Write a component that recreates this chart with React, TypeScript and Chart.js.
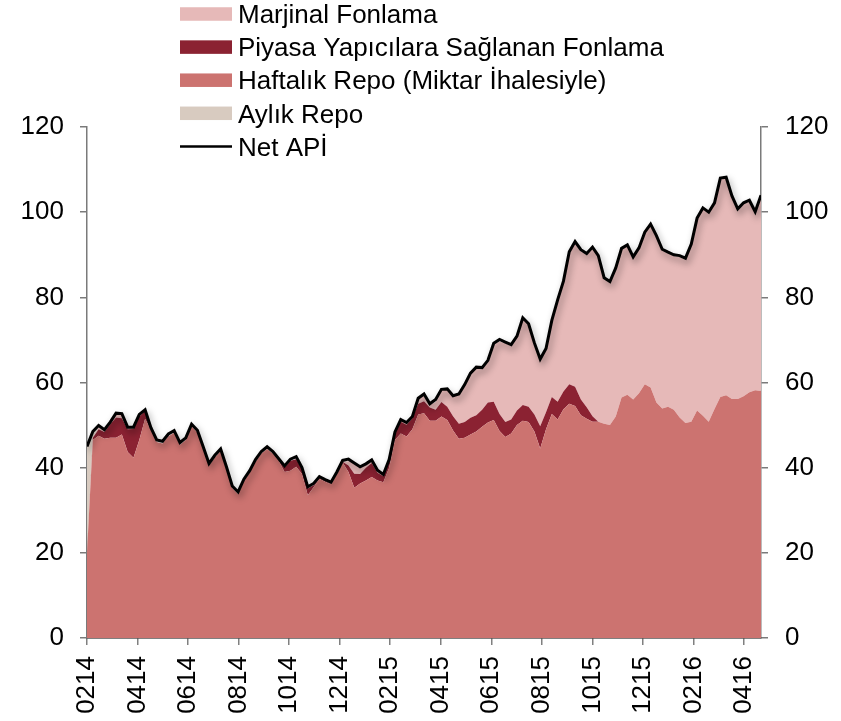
import { useEffect, useRef } from "react";
import { Chart, registerables } from "chart.js";

Chart.register(...registerables);

// x-axis tick labels (MMYY), one every two months starting Feb 2014
const tickLabels = ["0214", "0414", "0614", "0814", "1014", "1214", "0215", "0415", "0615", "0815", "1015", "1215", "0216", "0416"];

// weekly observations, first week of Feb 2014 onward (billion TL)
const netApi = [
  45, 48.5, 49.9, 48.9, 50.7, 52.8, 52.7, 49.5, 49.5, 52.5,
  53.6, 49.4, 46.5, 46.2, 47.9, 48.7, 45.9, 47, 50.2, 48.8,
  44.9, 41, 42.9, 44.4, 40.2, 35.7, 34.3, 37.3, 39.3, 41.9,
  43.8, 44.9, 43.8, 42.1, 40.4, 42, 42.6, 40, 35.5, 36.3,
  37.9, 37.2, 36.6, 39, 41.7, 42, 41.1, 40.2, 40.9, 41.8,
  39.4, 38.4, 41.9, 48.4, 51.3, 50.6, 52, 56.3, 57.3, 55,
  56, 58.4, 58.5, 56.9, 57.3, 59.5, 62.2, 63.6, 63.5, 65.2,
  69.2, 70.1, 69.5, 68.9, 70.9, 75.2, 73.8, 69.3, 65.5, 68,
  74.6, 79.4, 83.8, 90.7, 93.1, 91.2, 90.3, 91.8, 89.8, 84.6,
  83.7, 86.9, 91.5, 92.3, 89.5, 91.6, 95.3, 97.2, 94.5, 91.3,
  90.6, 90, 89.8, 89.2, 92.5, 98.6, 101, 100, 102.2, 108,
  108.2, 103.8, 100.8, 102.2, 102.8, 100.1, 104,
];

const haftalikRepo = [
  20, 46.5, 47.5, 46.8, 47, 47, 47.8, 43.7, 42.3, 46.5,
  51.5, 48.8, 46, 45.7, 47.4, 48.2, 45.4, 46.5, 49.7, 48.3,
  44.4, 40.5, 42.4, 43.9, 39.7, 35.2, 33.8, 36.8, 38.8, 41.4,
  43.3, 44.4, 43.3, 41.6, 39, 39.3, 40.2, 38.5, 33.5, 35.4,
  37.4, 36.7, 36.1, 38.5, 41.2, 39, 35.3, 36.3, 37, 37.8,
  37, 36.6, 40, 46.5, 48, 47.3, 49, 52.5, 52.8, 51,
  51, 52, 51.2, 48.7, 46.8, 47, 47.8, 48.5, 49.6, 50.6,
  51.2, 48.6, 47.2, 48, 50, 51, 50.7, 48.5, 44.5, 49,
  52.6, 51.3, 53.7, 55, 54.5, 52.3, 51.5, 50.8, 50.8, 50.3,
  50, 52, 56.5, 57.1, 56, 57.5, 59.6, 58.8, 55.3, 53.9,
  54.3, 53.6, 51.8, 50.5, 50.8, 53.4, 52.2, 50.8, 53.8, 56.6,
  57, 56.1, 56.1, 56.8, 57.7, 58.2, 58,
];

const piyasaYapici = [
  0, 0.5, 1.5, 1.6, 3.2, 4.8, 3.8, 5.3, 6.8, 5.5,
  1.8, 0.3, 0, 0, 0, 0, 0, 0, 0, 0,
  0, 0, 0, 0, 0, 0, 0, 0, 0, 0,
  0, 0, 0, 0.3, 1, 2.3, 1.8, 1.2, 1.6, 0.5,
  0.2, 0.2, 0.2, 0.2, 0.2, 1.5, 3.3, 2.2, 3, 3.3,
  1.8, 1.4, 1.5, 1.5, 2.8, 2.8, 2.6, 2.5, 2.8, 3.1,
  2.6, 3.4, 3.1, 3.4, 3.5, 3.7, 3.9, 3.8, 4, 4.7,
  4.3, 4, 3.5, 3.3, 3.4, 3.7, 3.6, 4, 5.2, 4,
  4, 4.2, 4.2, 4.6, 4.5, 3.7, 2.7, 1.3, 0, 0,
  0, 0, 0, 0, 0, 0, 0, 0, 0, 0,
  0, 0, 0, 0, 0, 0, 0, 0, 0, 0,
  0, 0, 0, 0, 0, 0, 0,
];

const marjinalFonlama = [
  0, 0, 0.5, 0.3, 0.3, 0.8, 0.8, 0.3, 0.3, 0.3,
  0.2, 0.2, 0, 0, 0, 0, 0, 0, 0, 0,
  0, 0, 0, 0, 0, 0, 0, 0, 0, 0,
  0, 0, 0, 0, 0, 0, 0, 0, 0, 0,
  0, 0, 0, 0, 0, 1, 2.5, 1.5, 0.8, 0.5,
  0.3, 0.2, 0.2, 0.2, 0.3, 0.3, 0.3, 1, 1.5, 0.6,
  1.8, 2.8, 4, 4.6, 6.8, 8.5, 10, 11, 9.5, 9.6,
  13.4, 17, 18.5, 17.3, 17.2, 20.2, 19.2, 16.5, 15.5, 14.7,
  17.7, 23.5, 25.6, 30.8, 33.8, 34.8, 35.8, 39.3, 38.6, 34,
  33.4, 34.5, 34.7, 34.9, 33.2, 33.8, 35.4, 38.1, 38.9, 37.1,
  36, 36.1, 37.7, 38.4, 41.4, 44.9, 48.5, 48.9, 48.1, 51.1,
  50.9, 47.4, 44.4, 45.1, 44.8, 41.6, 45.5,
];

const aylikRepo = [
  25, 1.5, 0, 0, 0, 0, 0, 0, 0, 0,
  0, 0, 0, 0, 0, 0, 0, 0, 0, 0,
  0, 0, 0, 0, 0, 0, 0, 0, 0, 0,
  0, 0, 0, 0, 0, 0, 0, 0, 0, 0,
  0, 0, 0, 0, 0, 0, 0, 0, 0, 0,
  0, 0, 0, 0, 0, 0, 0, 0, 0, 0,
  0, 0, 0, 0, 0, 0, 0, 0, 0, 0,
  0, 0, 0, 0, 0, 0, 0, 0, 0, 0,
  0, 0, 0, 0, 0, 0, 0, 0, 0, 0,
  0, 0, 0, 0, 0, 0, 0, 0, 0, 0,
  0, 0, 0, 0, 0, 0, 0, 0, 0, 0,
  0, 0, 0, 0, 0, 0, 0,
];

// small negative item (not in legend)
const digerNegatif = [
  0, 0, 0, 0, 0, 0, 0, 0, 0, 0,
  0, 0, 0, 0, 0, 0, 0, 0, 0, 0,
  0, -0.5, -0.6, -0.6, -0.4, 0, 0, -0.5, -0.7, -0.7,
  -0.6, -0.5, -0.4, -0.3, 0, 0, 0, 0, 0, 0,
  0, 0, 0, -0.4, -0.4, 0, 0, 0, 0, 0,
  0, 0, 0, 0, 0, 0, 0, 0, 0, 0,
  0, 0, 0, 0, 0, 0, 0, 0, 0, 0,
  0, 0, 0, 0, 0, 0, 0, 0, 0, 0,
  0, 0, 0, 0, 0, 0, 0, 0, 0, 0,
  0, 0, 0, 0, 0, 0, 0, 0, 0, 0,
  0, 0, 0, 0, 0, 0, 0, 0, 0, 0,
  0, 0, 0, 0, 0, 0, 0,
];

const COLORS = {
  marjinal: "#E6B9B8",
  piyasa: "#8B2232",
  haftalik: "#CC7370",
  aylik: "#D8CBC0",
  neg: "#E46C0A",
  net: "#000000",
};

const FONT = '"Liberation Sans", Arial, Helvetica, sans-serif';

const legendItems = [
  { label: "Marjinal Fonlama", color: COLORS.marjinal, kind: "box" },
  { label: "Piyasa Yapıcılara Sağlanan Fonlama", color: COLORS.piyasa, kind: "box" },
  { label: "Haftalık Repo (Miktar İhalesiyle)", color: COLORS.haftalik, kind: "box" },
  { label: "Aylık Repo", color: COLORS.aylik, kind: "box" },
  { label: "Net APİ", color: COLORS.net, kind: "line" },
];

const DAYS_PER_MONTH = 30.44;
const toPoints = (vals: number[]) => vals.map((y, i) => ({ x: (i * 7) / DAYS_PER_MONTH, y }));
const lastX = ((netApi.length - 1) * 7) / DAYS_PER_MONTH;

const legendPlugin = {
  id: "customLegend",
  afterDraw(chart: any) {
    const ctx = chart.ctx;
    ctx.save();
    ctx.font = `26px ${FONT}`;
    ctx.textAlign = "left";
    ctx.textBaseline = "alphabetic";
    legendItems.forEach((item, k) => {
      const cy = 14 + k * 33.1;
      if (item.kind === "box") {
        ctx.fillStyle = item.color;
        ctx.fillRect(180, cy - 6.75, 52, 13.5);
      } else {
        ctx.strokeStyle = item.color;
        ctx.lineWidth = 2.5;
        ctx.beginPath();
        ctx.moveTo(180, cy);
        ctx.lineTo(232, cy);
        ctx.stroke();
      }
      ctx.fillStyle = "#000";
      ctx.fillText(item.label, 238, cy + 9.2);
    });
    ctx.restore();
  },
};

const shadowPlugin = {
  id: "lineShadow",
  beforeDatasetDraw(chart: any, args: any) {
    if (chart.data.datasets[args.index]?.label === "Net APİ") {
      const ctx = chart.ctx;
      ctx.save();
      ctx.shadowColor = "rgba(0,0,0,0.4)";
      ctx.shadowBlur = 7;
      ctx.shadowOffsetX = 2;
      ctx.shadowOffsetY = 4;
    }
  },
  afterDatasetDraw(chart: any, args: any) {
    if (chart.data.datasets[args.index]?.label === "Net APİ") {
      chart.ctx.restore();
    }
  },
};

export default function App() {
  const canvasRef = useRef<HTMLCanvasElement | null>(null);

  useEffect(() => {
    document.body.style.margin = "0";
    const canvas = canvasRef.current;
    if (!canvas) return;

    const area = (label: string, data: number[], color: string, fill: any, stack = "pos") => ({
      type: "line" as const,
      label,
      data: toPoints(data),
      backgroundColor: color,
      borderColor: color,
      borderWidth: 0,
      pointRadius: 0,
      tension: 0,
      fill,
      stack,
    });

    const chart = new Chart(canvas, {
      type: "line",
      data: {
        datasets: [
          {
            type: "line",
            label: "Net APİ",
            data: toPoints(netApi),
            borderColor: COLORS.net,
            borderWidth: 3,
            pointRadius: 0,
            tension: 0,
            fill: false,
            stack: "net",
            order: -1,
          },
          area("Haftalık Repo (Miktar İhalesiyle)", haftalikRepo, COLORS.haftalik, "origin"),
          area("Piyasa Yapıcılara Sağlanan Fonlama", piyasaYapici, COLORS.piyasa, "-1"),
          area("Marjinal Fonlama", marjinalFonlama, COLORS.marjinal, "-1"),
          area("Aylık Repo", aylikRepo, COLORS.aylik, "-1"),
          area("Diğer", digerNegatif, COLORS.neg, "origin", "neg"),
        ] as any,
      },
      options: {
        animation: false,
        responsive: false,
        maintainAspectRatio: false,
        layout: { padding: { top: 127, left: 0, right: 0, bottom: 0 } },
        plugins: {
          legend: { display: false },
          tooltip: { enabled: false },
        },
        scales: {
          x: {
            type: "linear",
            min: 0,
            max: lastX,
            bounds: "data",
            afterBuildTicks: (s: any) => {
              s.ticks = tickLabels.map((_, k) => ({ value: k * 2 }));
            },
            afterFit: (s: any) => {
              s.height = 83;
            },
            ticks: {
              autoSkip: false,
              minRotation: 90,
              maxRotation: 90,
              padding: 11,
              color: "#000",
              font: { size: 26, family: FONT },
              callback: (v: any) => tickLabels[Math.round(Number(v) / 2)] ?? "",
            },
            grid: { display: true, drawOnChartArea: false, drawTicks: true, tickLength: 7, color: "#808080", lineWidth: 1.5 },
            border: { display: true, color: "#000", width: 1.5 },
          },
          y: {
            type: "linear",
            position: "left",
            stacked: true,
            min: 0,
            max: 120,
            afterFit: (s: any) => {
              s.width = 87;
            },
            ticks: { stepSize: 20, padding: 16, color: "#000", font: { size: 26, family: FONT } },
            grid: { display: true, drawOnChartArea: false, drawTicks: true, tickLength: 7, color: "#7a7a7a", lineWidth: 1.5 },
            border: { display: true, color: "#7a7a7a", width: 1.5 },
          },
          y2: {
            type: "linear",
            position: "right",
            min: 0,
            max: 120,
            afterFit: (s: any) => {
              s.width = 80;
            },
            ticks: { stepSize: 20, padding: 17, color: "#000", font: { size: 26, family: FONT } },
            grid: { display: true, drawOnChartArea: false, drawTicks: true, tickLength: 7, color: "#7a7a7a", lineWidth: 1.5 },
            border: { display: true, color: "#7a7a7a", width: 1.5 },
          },
        },
      } as any,
      plugins: [legendPlugin, shadowPlugin],
    });

    return () => chart.destroy();
  }, []);

  return (
    <div style={{ width: 841, height: 721 }}>
      <canvas ref={canvasRef} width={841} height={721} style={{ display: "block", width: 841, height: 721 }} />
    </div>
  );
}
